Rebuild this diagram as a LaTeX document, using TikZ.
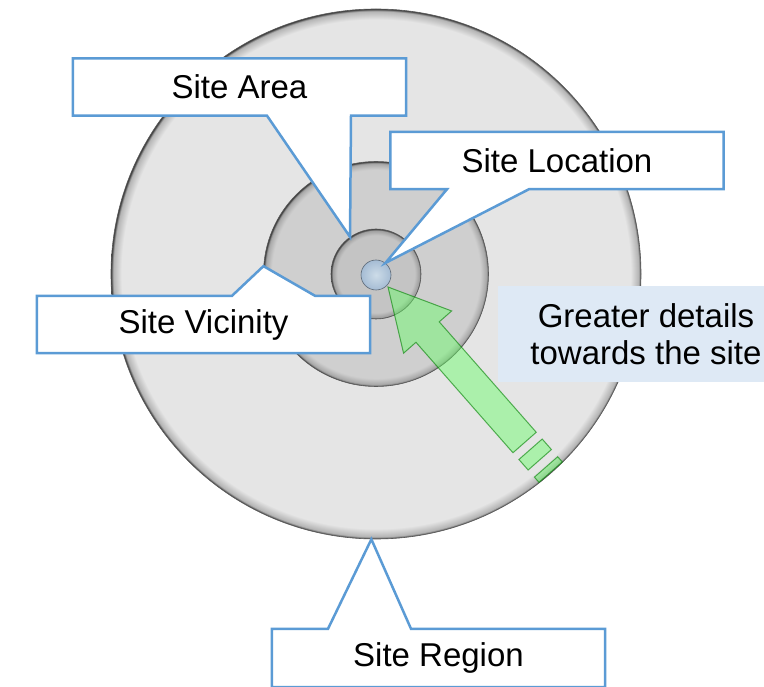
\documentclass[tikz,border=0pt]{standalone}
\usepackage{fontspec}
\setmainfont{Liberation Sans}
\usepackage{xcolor}
\usepackage{tikz}
\usetikzlibrary{shadings}
\definecolor{calloutblue}{RGB}{91,155,213}
\definecolor{noteblue}{RGB}{222,233,245}
\definecolor{dotblue}{RGB}{165,188,212}
\definecolor{dotlight}{RGB}{205,220,232}
\pgfdeclareradialshading{rimregion}{\pgfpoint{0bp}{0bp}}{%
  color(0bp)=(black!10); color(24bp)=(black!10); color(24.8bp)=(black!30);
  color(25bp)=(black!80); color(50bp)=(black!80)}
\pgfdeclareradialshading{rimvicinity}{\pgfpoint{0bp}{0bp}}{%
  color(0bp)=(black!19); color(23.2bp)=(black!19); color(24.6bp)=(black!35);
  color(25bp)=(black!80); color(50bp)=(black!80)}
\pgfdeclareradialshading{rimarea}{\pgfpoint{0bp}{0bp}}{%
  color(0bp)=(black!23); color(21.5bp)=(black!23); color(24.2bp)=(black!38);
  color(25bp)=(black!80); color(50bp)=(black!80)}
\pgfdeclarelayer{background}
\pgfdeclarelayer{frames}
\pgfsetlayers{background,frames,main}

\begin{document}
\begin{tikzpicture}[x=1pt,y=-1pt]

%\draw[help lines] (0,0) grid (764,687);

% Define block styles
\tikzstyle{ring}=[circle, inner sep=0pt, draw=black!65, line width=0.6pt]
\tikzstyle{sitebox}=[minimum width=333pt, minimum height=57pt, inner sep=0pt,
  font=\fontsize{33}{37}\selectfont]
\tikzstyle{calloutline}=[draw=calloutblue, line width=2.5pt, fill=white]
\tikzstyle{notebox}=[sitebox, fill=noteblue, minimum width=296pt,
  minimum height=96pt, align=center]
\tikzstyle{arrowbody}=[fill=green!60!white, fill opacity=0.45,
  draw=green!50!black, draw opacity=0.6, line width=1pt]

% Callout frame, pointer on the lower edge
\newcommand{\calloutdown}[4]{%
  \begin{pgfonlayer}{frames}
    \path[calloutline] (#1.north west) -- (#1.north east) -- (#1.south east)
      -- (#3,0 |- #1.south) -- (#4) -- (#2,0 |- #1.south)
      -- (#1.south west) -- cycle;
  \end{pgfonlayer}}

% Callout frame, pointer on the upper edge
\newcommand{\calloutup}[4]{%
  \begin{pgfonlayer}{frames}
    \path[calloutline] (#1.south west) -- (#1.south east) -- (#1.north east)
      -- (#3,0 |- #1.north) -- (#4) -- (#2,0 |- #1.north)
      -- (#1.north west) -- cycle;
  \end{pgfonlayer}}

\useasboundingbox (0,0) rectangle (764,687);

% Draw the rings
\begin{pgfonlayer}{background}
\path node at (376,274) (c1) [ring, minimum size=530pt, shading=rimregion] {};
\path node at (376,274) (c2) [ring, minimum size=225pt, shading=rimvicinity] {};
\path node at (376,274) (c3) [ring, minimum size=90pt, shading=rimarea] {};
\path node at (376,275) (c4) [ring, minimum size=30pt, draw=dotblue!55!black,
  shading=radial, inner color=dotlight, outer color=dotblue] {};

% Arrow towards the site
\begin{scope}[shift={(388,287)}, rotate=-48.7]
  \path[arrowbody] (0,0) -- (60,32) -- (60,15.5) -- (207,15.5)
    -- (207,-15.5) -- (60,-15.5) -- (60,-32) -- cycle;
  \path[arrowbody] (216,-15.5) rectangle (230,15.5);
  \path[arrowbody] (239.5,-15.5) rectangle (246.5,15.5);
\end{scope}
\end{pgfonlayer}

% Draw the labels
\path node at (239.5,87) (l1) [sitebox] {Site Area};
\path node at (557,160.5) (l2) [sitebox] {Site Location};
\path node at (203.5,324.5) (l3) [sitebox] {Site Vicinity};
\path node at (438.5,658) (l4) [sitebox, minimum height=58pt] {Site Region};
\path node at (646,334) (g1) [notebox] {Greater details\\towards the site};

\calloutdown{l1}{267}{351}{c3.125}
\calloutdown{l2}{447}{529}{c4.52}
\calloutup{l3}{232}{315}{c2.176}
\calloutup{l4}{328}{411}{c1.269}

\end{tikzpicture}
\end{document}
